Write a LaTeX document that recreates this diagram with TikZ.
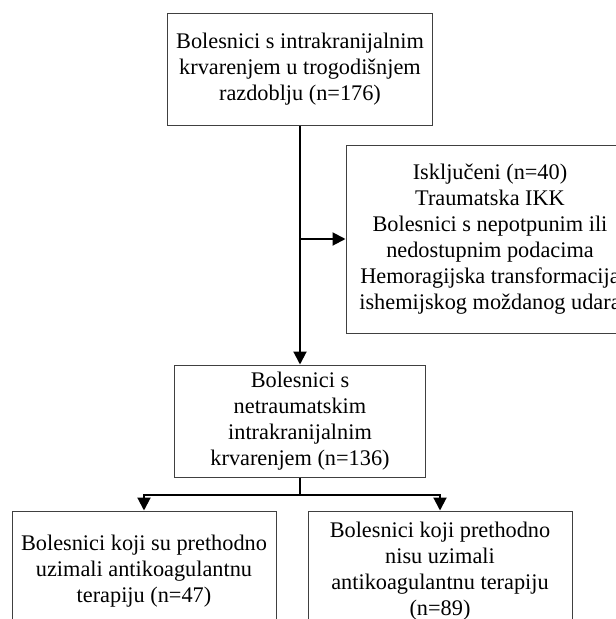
\documentclass[tikz,border=0pt]{standalone}
\usepackage{fontspec}
\setmainfont{Liberation Serif}
\usetikzlibrary{arrows.meta}
\begin{document}
\begin{tikzpicture}[x=1pt,y=-1pt,
  box/.style={draw=black!75, line width=1pt, align=center, inner sep=0pt, font=\fontsize{22.3}{26}\selectfont},
  conn/.style={line width=2pt, draw=black},
  arr/.style={-{Triangle[length=13pt,width=13pt]}}]
\useasboundingbox (0,0) rectangle (616,619);
\clip (0,0) rectangle (616,619);
\node[box, minimum width=265pt, minimum height=112pt] (top) at (300,69)
  {Bolesnici s intrakranijalnim\\krvarenjem u trogodišnjem\\razdoblju (n=176)};
\node[box, minimum width=288pt, minimum height=188pt] (excl) at (490,239)
  {Isključeni (n=40)\\Traumatska IKK\\Bolesnici s nepotpunim ili\\nedostupnim podacima\\Hemoragijska transformacija\\ishemijskog moždanog udara};
\node[box, minimum width=251pt, minimum height=112pt] (mid) at (300,421)
  {Bolesnici s\\netraumatskim\\intrakranijalnim\\krvarenjem (n=136)};
\node[box, minimum width=264pt, minimum height=120pt] (left) at (144,571)
  {Bolesnici koji su prethodno\\uzimali antikoagulantnu\\terapiju (n=47)};
\node[box, minimum width=264pt, minimum height=120pt] (right) at (440,571)
  {Bolesnici koji prethodno\\nisu uzimali\\antikoagulantnu terapiju\\(n=89)};
\draw[conn, arr] (top.south) -- (mid.north);
\coordinate (j) at (top.south |- excl.west);
\draw[conn, arr] (j) -- (excl.west);
\coordinate (br) at ([yshift=-17pt]mid.south);
\draw[conn] (mid.south) -- (br);
\draw[conn, arr] (br) -| (left.north);
\draw[conn, arr] (br) -| (right.north);
\end{tikzpicture}
\end{document}
